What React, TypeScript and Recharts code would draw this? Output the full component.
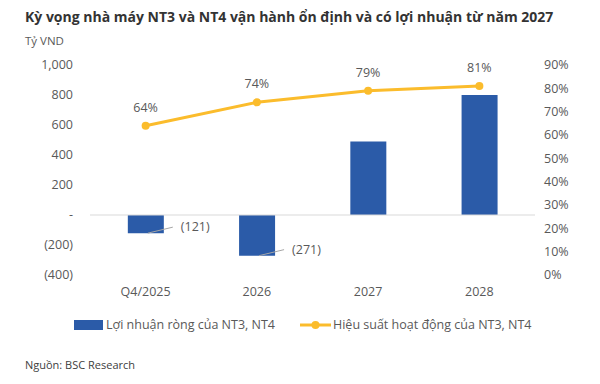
import {
  ComposedChart, Bar, Line, XAxis, YAxis, ReferenceLine, LabelList
} from 'recharts'

const categories = ['Q4/2025', '2026', '2027', '2028']
const netProfit = [-121, -271, 490, 800]
const utilization = [0.64, 0.74, 0.79, 0.81]
const leftTicks = [-400, -200, 0, 200, 400, 600, 800, 1000]
const rightTicks = [0, 0.1, 0.2, 0.3, 0.4, 0.5, 0.6, 0.7, 0.8, 0.9]

const BLUE = '#2B5BA8'
const GOLD = '#FBBC2C'
const GREY = '#595959'
const FONT = '"Open Sans", sans-serif'

const data = categories.map((c, i) => ({
  name: c,
  profit: netProfit[i],
  util: utilization[i],
}))

// "(121)" style, zero shown as a dash like the Excel source
const fmtLeft = (v: number) =>
  v === 0 ? '-' : v < 0 ? `(${Math.abs(v)})` : v.toLocaleString('en-US')

const NegLabel = (props: any) => {
  const { x, y, width, height, value } = props
  if (value >= 0) return null
  const bottom = Math.max(y, y + height)
  const sx = x + width / 2 + 2
  const ex = x + width + 9
  const ey = bottom - 6
  return (
    <g>
      <line x1={sx} y1={bottom} x2={ex} y2={ey} stroke="#A6A6A6" strokeWidth={1} />
      <text x={ex + 8} y={ey + 1} dominantBaseline="middle" fill={GREY} fontSize={12.5} fontFamily={FONT}>
        {fmtLeft(value)}
      </text>
    </g>
  )
}

export default function App() {
  return (
    <div style={{ position: 'absolute', left: 0, top: 0, width: 600, height: 384, background: '#fff', fontFamily: FONT }}>
      <div style={{ position: 'absolute', left: 25, top: 7, fontSize: 14, fontWeight: 700, color: '#333' }}>
        Kỳ vọng nhà máy NT3 và NT4 vận hành ổn định và có lợi nhuận từ năm 2027
      </div>
      <div style={{ position: 'absolute', left: 25, top: 33, fontSize: 11.5, color: GREY }}>Tỷ VND</div>
      <div style={{ position: 'absolute', left: 25, top: 357, fontSize: 11, color: '#404040' }}>Nguồn: BSC Research</div>

      <ComposedChart
        width={600}
        height={384}
        data={data}
        margin={{ top: 65, right: 0, bottom: 79, left: 0 }}
        barCategoryGap="34%"
        style={{ position: 'absolute', left: 0, top: 0 }}
      >
        <XAxis
          dataKey="name"
          axisLine={false}
          tickLine={false}
          tickSize={0}
          tickMargin={12}
          tick={{ fill: GREY, fontSize: 12.5, fontFamily: FONT }}
          height={30}
        />
        <YAxis
          yAxisId="left"
          width={90}
          domain={[-400, 1000]}
          ticks={leftTicks}
          tickFormatter={fmtLeft}
          axisLine={false}
          tickLine={false}
          tickSize={0}
          tickMargin={17}
          tick={{ fill: GREY, fontSize: 12.5, fontFamily: FONT }}
          interval={0}
        />
        <YAxis
          yAxisId="right"
          orientation="right"
          width={65}
          domain={[0, 0.9]}
          ticks={rightTicks}
          tickFormatter={(v: number) => `${Math.round(v * 100)}%`}
          axisLine={false}
          tickLine={false}
          tickSize={0}
          tickMargin={9}
          tick={{ fill: GREY, fontSize: 12.5, fontFamily: FONT, textAnchor: 'start' }}
          interval={0}
        />
        <ReferenceLine yAxisId="left" y={0} stroke="#D9D9D9" strokeWidth={1} />
        <Bar yAxisId="left" dataKey="profit" fill={BLUE} isAnimationActive={false}>
          <LabelList dataKey="profit" content={NegLabel} />
        </Bar>
        <Line
          yAxisId="right"
          dataKey="util"
          stroke={GOLD}
          strokeWidth={3}
          dot={{ r: 4, fill: GOLD, stroke: GOLD, strokeWidth: 0 }}
          isAnimationActive={false}
        >
          <LabelList
            dataKey="util"
            position="top"
            offset={14}
            formatter={(v: any) => `${Math.round(v * 100)}%`}
            style={{ fill: GREY, fontSize: 12.5, fontFamily: FONT }}
          />
        </Line>
      </ComposedChart>

      {/* legend kept outside the chart so it doesn't shrink the plot area */}
      <div style={{ position: 'absolute', left: 0, top: 315, width: 600, height: 20, fontSize: 12.5, color: GREY }}>
        <div style={{ position: 'absolute', left: 74, top: 5, width: 29, height: 10, background: BLUE }} />
        <span style={{ position: 'absolute', left: 106, top: 0, lineHeight: '20px' }}>Lợi nhuận ròng của NT3, NT4</span>
        <svg style={{ position: 'absolute', left: 300, top: 0 }} width={31} height={20}>
          <line x1={0} y1={10} x2={31} y2={10} stroke={GOLD} strokeWidth={3} />
          <circle cx={15.5} cy={10} r={4} fill={GOLD} />
        </svg>
        <span style={{ position: 'absolute', left: 333, top: 0, lineHeight: '20px' }}>Hiệu suất hoạt động của NT3, NT4</span>
      </div>
    </div>
  )
}
